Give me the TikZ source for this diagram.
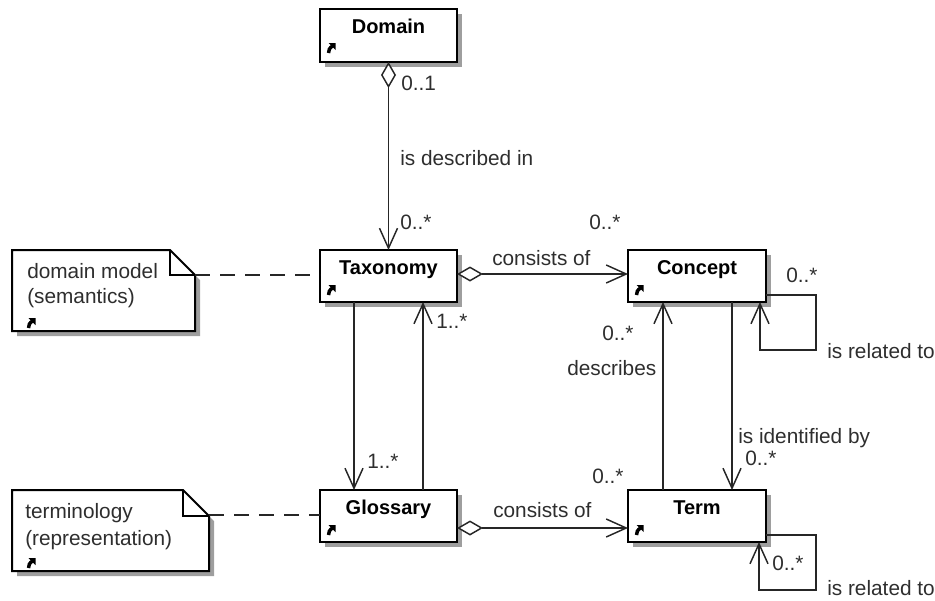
\documentclass[tikz,border=0pt]{standalone}
\usepackage{fontspec}
\setmainfont{Liberation Sans}
\usetikzlibrary{arrows.meta,calc,shadows}
\begin{document}
\begin{tikzpicture}[x=0.75pt,y=-0.75pt,
  cls/.style={draw=black, line width=1.5pt, fill=white, anchor=north west,
    minimum width=137*0.75pt, minimum height=52*0.75pt, inner sep=0pt, outer sep=0pt,
    drop shadow={shadow xshift=3.8pt, shadow yshift=-3.8pt, fill=black!38, opacity=1}},
  notebox/.style={anchor=north west, inner sep=0pt, outer sep=0pt},
  ttl/.style={font=\fontsize{15}{18}\selectfont\bfseries, anchor=base, inner sep=0pt},
  lbl/.style={font=\fontsize{15.6}{18}\selectfont, text=black!82, anchor=base west, inner sep=0pt},
  assoc/.style={draw=black!85, line width=1.1pt},
  barb/.tip={Straight Barb[length=15pt, width=13.5pt]},
  dia/.tip={Diamond[fill=white, length=19.5pt, width=11.25pt]},
  notelink/.style={draw=black!85, line width=1.1pt, dash pattern=on 11.25pt off 7.5pt},
  lnk/.pic={\fill (2.5,0) -- (9.5,0) -- (9.5,7) -- cycle;
            \draw[line width=2.6pt] (6.5,3) .. controls (3.5,5) and (2.5,7) .. (2.5,10);}
]
\useasboundingbox (0,0) rectangle (935,600);

% classes
\node[cls, minimum height=53*0.75pt] (domain) at (320,9) {};
\node[cls] (taxonomy) at (320,250) {};
\node[cls, minimum width=138*0.75pt] (concept) at (628,250) {};
\node[cls] (glossary) at (320,490) {};
\node[cls, minimum width=138*0.75pt] (term) at (628,490) {};

\node[ttl] (tdomain) at (388.5,33) {Domain};
\node[ttl] (ttaxonomy) at (388.5,274) {Taxonomy};
\node[ttl] (tconcept) at (697,274) {Concept};
\node[ttl] (tglossary) at (388.5,514) {Glossary};
\node[ttl] (tterm) at (697,514) {Term};

\pic at (326,43) {lnk};
\pic at (326,285) {lnk};
\pic at (634,285) {lnk};
\pic at (326,525) {lnk};
\pic at (634,525) {lnk};

% notes
\node[notebox, minimum width=183*0.75pt, minimum height=81*0.75pt] (note1) at (12,250) {};
\node[notebox, minimum width=197*0.75pt, minimum height=81*0.75pt] (note2) at (12,490) {};
\foreach \n/\f in {note1/25, note2/26}{
  \fill[black!38] ($(\n.north west)+(5,5)$) -- ($(\n.north east)+(-\f+5,5)$) -- ($(\n.north east)+(5,\f+5)$)
     -- ($(\n.south east)+(5,5)$) -- ($(\n.south west)+(5,5)$) -- cycle;
  \draw[line width=1.5pt, fill=white, line join=miter] (\n.north west) -- ($(\n.north east)+(-\f,0)$)
     -- ($(\n.north east)+(0,\f)$) -- (\n.south east) -- (\n.south west) -- cycle;
  \draw[line width=1.5pt] ($(\n.north east)+(-\f,0)$) |- ($(\n.north east)+(0,\f)$);
}
\node[lbl] (n1a) at (27,278) {domain model};
\node[lbl] (n1b) at (27,303) {(semantics)};
\pic at (26,318) {lnk};
\node[lbl] (n2a) at (25,518) {terminology};
\node[lbl] (n2b) at (25,545) {(representation)};
\pic at (26,558) {lnk};

\coordinate (n1c) at ($(note1.north east)+(0,25)$);
\coordinate (n2c) at ($(note2.north east)+(0,25)$);
\draw[notelink] (n1c) -- (taxonomy.west |- n1c);
\draw[notelink] (n2c) -- (glossary.west |- n2c);

% associations
\draw[assoc, {dia}-{barb}] (domain.south) -- (taxonomy.north);
\draw[assoc, -{barb}] ($(taxonomy.south west)+(34,0)$) -- ($(glossary.north west)+(34,0)$);
\draw[assoc, -{barb}] ($(glossary.north west)+(103,0)$) -- ($(taxonomy.south west)+(103,0)$);
\draw[assoc, {dia}-{barb}] ($(taxonomy.north east)+(0,24)$) -- ($(concept.north west)+(0,24)$);
\draw[assoc, {dia}-{barb}] ($(glossary.north east)+(0,38)$) -- ($(term.north west)+(0,38)$);
\draw[assoc, -{barb}] ($(term.north west)+(35,0)$) -- ($(concept.south west)+(35,0)$);
\draw[assoc, -{barb}] ($(concept.south west)+(104,0)$) -- ($(term.north west)+(104,0)$);
\draw[assoc, -{barb}] ($(concept.north east)+(0,45)$) -- ++(50,0) -- ++(0,55) -| ($(concept.south west)+(132,0)$);
\draw[assoc, -{barb}] ($(term.north east)+(0,45)$) -- ++(50,0) -- ++(0,55) -| ($(term.south west)+(131,0)$);

% labels
\node[lbl] (l1) at (401,90) {0..1};
\node[lbl] (l2) at (400,165) {is described in};
\node[lbl] (l3) at (400,229) {0..*};
\node[lbl] (l4) at (492,265) {consists of};
\node[lbl] (l5) at (589,229) {0..*};
\node[lbl] (l6) at (786,282) {0..*};
\node[lbl] (l7) at (827,358) {is related to};
\node[lbl] (l8) at (436,328) {1..*};
\node[lbl] (l9) at (367,468) {1..*};
\node[lbl] (l10) at (602,340) {0..*};
\node[lbl] (l11) at (567,375) {describes};
\node[lbl] (l12) at (738,443) {is identified by};
\node[lbl] (l13) at (745,465) {0..*};
\node[lbl] (l14) at (592,483) {0..*};
\node[lbl] (l15) at (493,517) {consists of};
\node[lbl] (l16) at (772,570) {0..*};
\node[lbl] (l17) at (827,595) {is related to};
\end{tikzpicture}
\end{document}
